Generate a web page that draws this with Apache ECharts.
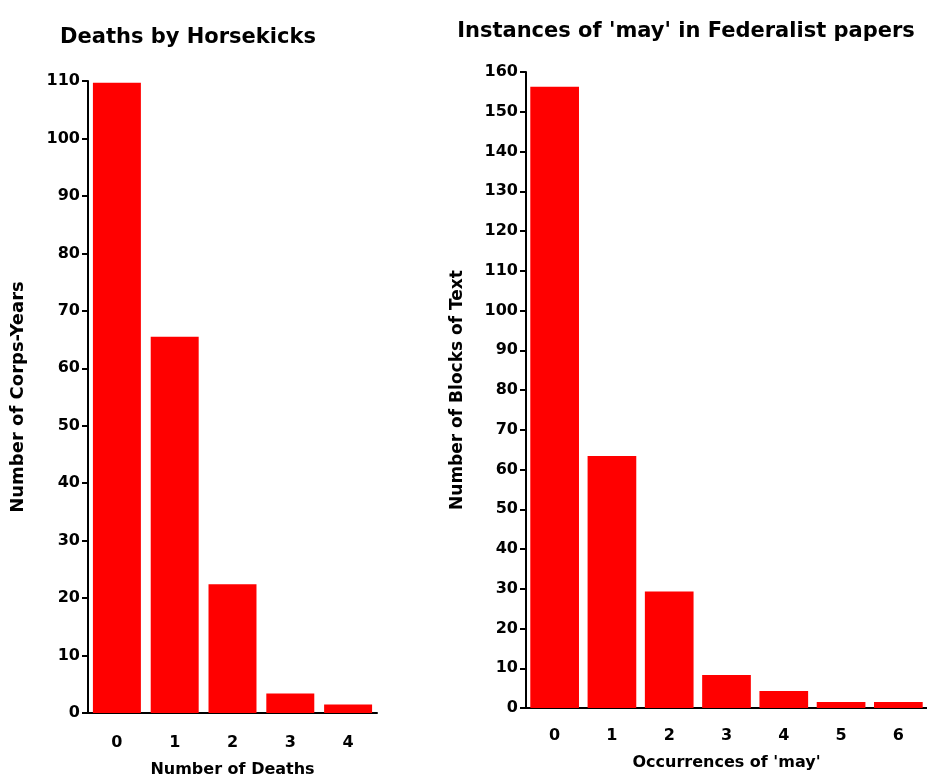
<!DOCTYPE html>
<html><head><meta charset="utf-8">
<script src="https://cdn.jsdelivr.net/npm/echarts@6/dist/echarts.min.js"></script>
<style>html,body{margin:0;padding:0;background:#fff}#c{width:927px;height:776px}</style>
</head><body><div id="c"></div>
<script>
const horseCats = ['0','1','2','3','4'];
const horseVals = [109.7, 65.5, 22.4, 3.4, 1.5];
const mayCats = ['0','1','2','3','4','5','6'];
const mayVals = [156.3, 63.4, 29.3, 8.3, 4.3, 1.5, 1.5];
const titleLeft = 'Deaths by Horsekicks';
const titleRight = "Instances of 'may' in Federalist papers";
const xNameLeft = 'Number of Deaths';
const yNameLeft = 'Number of Corps-Years';
const xNameRight = "Occurrences of 'may'";
const yNameRight = 'Number of Blocks of Text';

const FONT = 'DejaVu Sans';
const txt = {color:'#000', fontFamily:FONT, fontWeight:'bold', fontSize:16};
const chart = echarts.init(document.getElementById('c'), null, {renderer:'canvas'});
function xAxis(idx, cats, name, margin, gap){
  return {type:'category', gridIndex:idx, data:cats, name:name, nameLocation:'middle', nameGap:gap,
    nameTextStyle:Object.assign({}, txt, {fontSize:16}),
    axisLine:{lineStyle:{color:'#000', width:2}}, axisTick:{show:false},
    axisLabel:Object.assign({margin:margin}, txt)};
}
function yAxis(idx, max, name, gap, fs){
  return {type:'value', gridIndex:idx, min:0, max:max, interval:10, name:name, nameLocation:'middle', nameGap:gap,
    nameTextStyle:Object.assign({}, txt, {fontSize:fs}),
    axisLine:{show:true, lineStyle:{color:'#000', width:2}},
    axisTick:{show:true, length:6, lineStyle:{color:'#000', width:2}},
    axisLabel:Object.assign({margin:8}, txt), splitLine:{show:false}};
}
chart.setOption({
  animation:false,
  backgroundColor:'#fff',
  title:[
    {text:titleLeft, left:183, top:22, textAlign:'center', textStyle:Object.assign({}, txt, {fontSize:21})},
    {text:titleRight, left:681, top:16, textAlign:'center', textStyle:Object.assign({}, txt, {fontSize:21})}
  ],
  grid:[
    {left:88, right:550, top:81, bottom:63, containLabel:false, outerBoundsMode:'none'},
    {left:526, right:0, top:72, bottom:68, containLabel:false, outerBoundsMode:'none'}
  ],
  xAxis:[xAxis(0, horseCats, xNameLeft, 22, 49), xAxis(1, mayCats, xNameRight, 20, 47)],
  yAxis:[yAxis(0, 110, yNameLeft, 61, 18), yAxis(1, 160, yNameRight, 60, 17)],
  series:[
    {type:'bar', xAxisIndex:0, yAxisIndex:0, data:horseVals, barCategoryGap:'17%', itemStyle:{color:'#ff0000'}},
    {type:'bar', xAxisIndex:1, yAxisIndex:1, data:mayVals, barCategoryGap:'15%', itemStyle:{color:'#ff0000'}}
  ]
});
</script></body></html>
